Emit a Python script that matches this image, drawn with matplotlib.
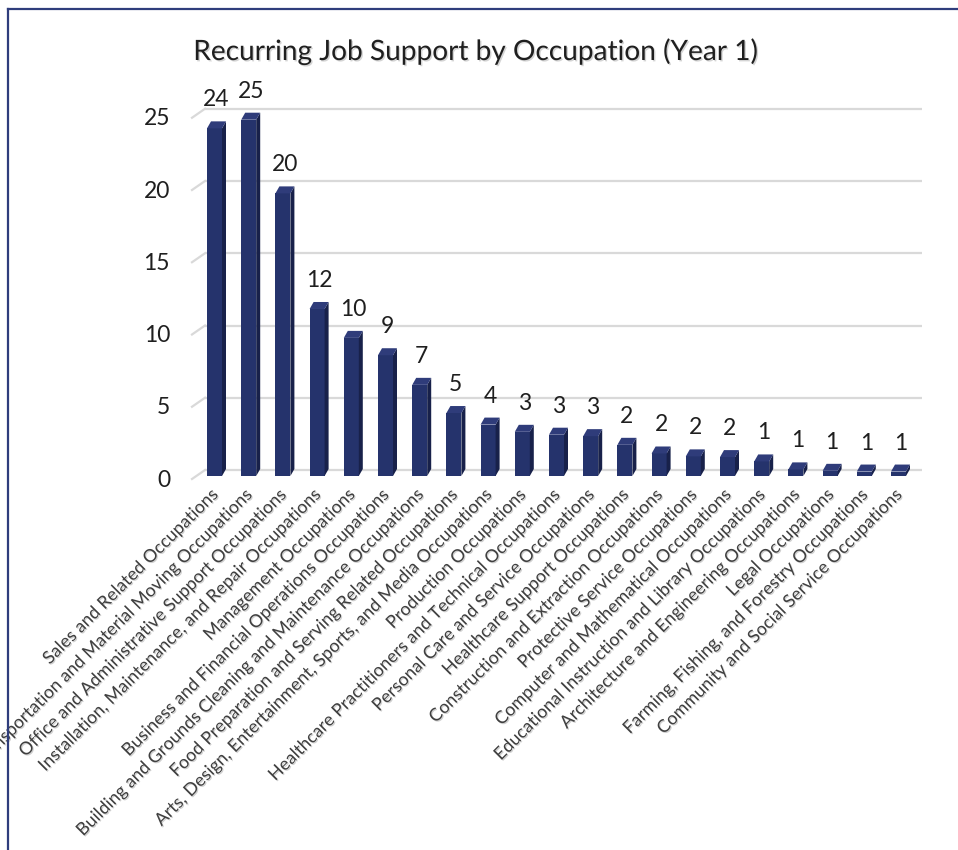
import matplotlib
matplotlib.use("Agg")
import matplotlib.pyplot as plt
from matplotlib import patheffects as pe
from matplotlib.lines import Line2D
from matplotlib.collections import PolyCollection

# ---------------- data ----------------
occupations = [
    "Sales and Related Occupations",
    "Transportation and Material Moving Occupations",
    "Office and Administrative Support Occupations",
    "Installation, Maintenance, and Repair Occupations",
    "Management Occupations",
    "Business and Financial Operations Occupations",
    "Building and Grounds Cleaning and Maintenance Occupations",
    "Food Preparation and Serving Related Occupations",
    "Arts, Design, Entertainment, Sports, and Media Occupations",
    "Production Occupations",
    "Healthcare Practitioners and Technical Occupations",
    "Personal Care and Service Occupations",
    "Healthcare Support Occupations",
    "Construction and Extraction Occupations",
    "Protective Service Occupations",
    "Computer and Mathematical Occupations",
    "Educational Instruction and Library Occupations",
    "Architecture and Engineering Occupations",
    "Legal Occupations",
    "Farming, Fishing, and Forestry Occupations",
    "Community and Social Service Occupations",
]
jobs = [24.3, 24.9, 19.8, 11.8, 9.8, 8.6, 6.55, 4.6, 3.8, 3.3, 3.1,
        3.0, 2.4, 1.8, 1.6, 1.55, 1.25, 0.7, 0.6, 0.55, 0.55]
y_ticks = [0, 5, 10, 15, 20, 25]
title = "Recurring Job Support by Occupation (Year 1)"

# ---------------- style ----------------
FONT = ["Lato", "DejaVu Sans"]
plt.rcParams["font.family"] = FONT
FRONT = "#25336c"
SIDE = "#18214a"
TOP = "#2f3c7a"
GRID = "#d9d9d9"
TXT = "#1f1f1f"

W, H, DPI = 958, 850, 100
PX_X, PX_Y = 34.2, 14.45          # pixels per data unit
L, R, B, T = 192, 922, 476, 93    # axes box in pixels (top-down y)
X0_PX = 214.5                     # pixel of first bar centre

fig = plt.figure(figsize=(W / DPI, H / DPI), dpi=DPI)
fig.patch.set_facecolor("white")
ax = fig.add_axes([L / W, 1 - B / H, (R - L) / W, (B - T) / H])
xmin = (L - X0_PX) / PX_X
xmax = (R - X0_PX) / PX_X
ax.set_xlim(xmin, xmax)
ax.set_ylim(0, (B - T) / PX_Y)
ax.axis("off")

# 3D-ish gridlines (back wall + floor slant)
back_dy = 6 / PX_Y
front_dy = -3 / PX_Y
wall_x = (205 - X0_PX) / PX_X
for t in y_ticks:
    ax.add_line(Line2D([wall_x, xmax], [t + back_dy, t + back_dy], color=GRID,
                       lw=1.6, zorder=1, clip_on=False, solid_capstyle="butt"))
    ax.add_line(Line2D([xmin, wall_x], [t + front_dy, t + back_dy], color=GRID,
                       lw=1.6, zorder=1, clip_on=False))
    ax.text(xmin - 22 / PX_X, t - 4 / PX_Y, str(t), ha="right", va="center",
            fontsize=16.5, color=TXT)

# bars
w = 15 / PX_X
dx = 4 / PX_X
dy = 7 / PX_Y
xs = list(range(len(jobs)))
fronts = [v - dy / 2 for v in jobs]
ax.bar(xs, fronts, width=w, color=FRONT, zorder=3, linewidth=0)
sides, tops = [], []
for x, h in zip(xs, fronts):
    xr = x + w / 2
    xl = x - w / 2
    sides.append([(xr, 0), (xr + dx, dy), (xr + dx, h + dy), (xr, h)])
    tops.append([(xl, h), (xr, h), (xr + dx, h + dy), (xl + dx, h + dy)])
ax.add_collection(PolyCollection(sides, facecolors=SIDE, edgecolors="none", zorder=3))
ax.add_collection(PolyCollection(tops, facecolors=TOP, edgecolors="none", zorder=4))

# data labels
for x, v, h in zip(xs, jobs, fronts):
    ax.text(x + dx / 2, h + dy + 15 / PX_Y, f"{v:.0f}", ha="center", va="baseline",
            fontsize=16.5, color=TXT, zorder=5)

# category labels
shadow = [pe.withSimplePatchShadow(offset=(0.8, -0.8), shadow_rgbFace="#b0b0b0", alpha=0.6)]
for x, lab in zip(xs, occupations):
    ax.text(x + 1 / PX_X, -16 / PX_Y, lab, rotation=45, rotation_mode="anchor",
            ha="right", va="center", fontsize=12.8, color="#404040",
            fontweight="normal", clip_on=False, path_effects=shadow)

# title
fig.text(475 / W, 1 - 60 / H, title, ha="center", va="baseline", fontsize=20.2,
         color=TXT, path_effects=[pe.withSimplePatchShadow(offset=(1, -1),
                                                          shadow_rgbFace="#aaaaaa", alpha=0.5)])

# chart frame (left and top edges visible)
fig.add_artist(Line2D([7.5 / W, 7.5 / W], [0, 1 - 9 / H], color="#2f3d7c", lw=1.6,
                      transform=fig.transFigure))
fig.add_artist(Line2D([7.5 / W, 1], [1 - 9 / H, 1 - 9 / H], color="#2f3d7c", lw=1.6,
                      transform=fig.transFigure))

fig.savefig("out.png", dpi=DPI)
